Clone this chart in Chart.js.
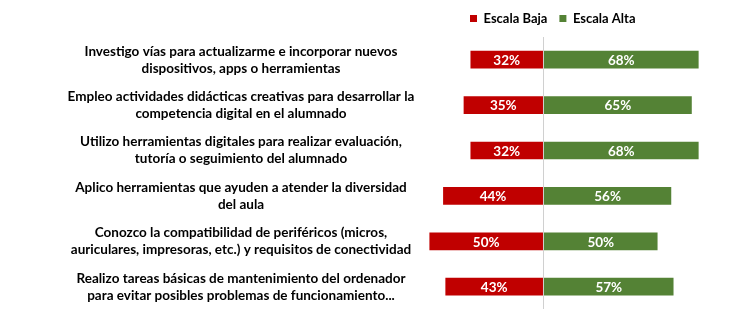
<!DOCTYPE html>
<html>
<head>
<meta charset="utf-8">
<script src="https://cdn.jsdelivr.net/npm/chart.js@4/dist/chart.umd.min.js"></script>
<style>
  html, body { margin: 0; padding: 0; background: #fff; }
  #wrap { width: 734px; height: 330px; }
</style>
</head>
<body>
<div id="wrap"><canvas id="chart"></canvas></div>
<script>
// Categorías (ya partidas en líneas como en el original)
const categorias = [
  ["Investigo vías para actualizarme e incorporar nuevos", "dispositivos, apps o herramientas"],
  ["Empleo actividades didácticas creativas para desarrollar la", "competencia digital en el alumnado"],
  ["Utilizo herramientas digitales para realizar evaluación,", "tutoría o seguimiento del alumnado"],
  ["Aplico herramientas que ayuden a atender la diversidad", "del aula"],
  ["Conozco la compatibilidad de periféricos (micros,", "auriculares, impresoras, etc.) y requisitos de conectividad"],
  ["Realizo tareas básicas de mantenimiento del ordenador", "para evitar posibles problemas de funcionamiento..."]
];
const escalaBaja = [32, 35, 32, 44, 50, 43];
const escalaAlta = [68, 65, 68, 56, 50, 57];
const serieNombres = ["Escala Baja", "Escala Alta"];

const ROJO = "#C00000";
const VERDE = "#548235";
const FONT = "Lato";

// etiquetas blancas dentro de cada barra
const etiquetasBarras = {
  id: "etiquetasBarras",
  afterDatasetsDraw(chart) {
    const ctx = chart.ctx;
    ctx.save();
    ctx.fillStyle = "#fff";
    ctx.font = "bold 13.5px " + FONT;
    ctx.textAlign = "center";
    ctx.textBaseline = "middle";
    chart.data.datasets.forEach((ds, i) => {
      chart.getDatasetMeta(i).data.forEach((bar, j) => {
        const p = bar.getProps(["x", "y", "base"], true);
        ctx.fillText(Math.abs(ds.data[j]) + "%", (p.x + p.base) / 2, p.y + 1);
      });
    });
    ctx.restore();
  }
};

// mover la leyenda a su sitio sobre las barras
const leyendaPos = {
  id: "leyendaPos",
  afterLayout(chart) {
    const lg = chart.legend;
    const w = lg.right - lg.left;
    lg.left = 458;
    lg.right = 458 + w;
    lg.top -= 2;
    lg.bottom -= 2;
  }
};

// ancho de la etiqueta más larga para centrar los textos del eje
const mctx = document.createElement("canvas").getContext("2d");
mctx.font = "bold 13.5px " + FONT;
let masAncha = 0;
categorias.forEach(c => c.forEach(l => { masAncha = Math.max(masAncha, mctx.measureText(l).width); }));

const ctx = document.getElementById("chart").getContext("2d");
new Chart(ctx, {
  type: "bar",
  data: {
    labels: categorias,
    datasets: [
      { label: serieNombres[0], data: escalaBaja.map(v => -v), backgroundColor: ROJO },
      { label: serieNombres[1], data: escalaAlta, backgroundColor: VERDE }
    ]
  },
  options: {
    indexAxis: "y",
    responsive: true,
    maintainAspectRatio: false,
    animation: false,
    datasets: { bar: { categoryPercentage: 1, barPercentage: 0.39 } },
    layout: { padding: { left: 0, right: 8, top: 2, bottom: 17 } },
    plugins: {
      tooltip: { enabled: false },
      legend: {
        position: "top",
        align: "start",
        labels: {
          boxWidth: 7,
          boxHeight: 7,
          padding: 12,
          color: "#000",
          font: { family: FONT, size: 13, weight: "bold" }
        }
      }
    },
    scales: {
      x: {
        stacked: true,
        min: -55,
        max: 80,
        ticks: { display: false },
        border: { display: false },
        grid: {
          drawTicks: false,
          color: c => (c.tick && c.tick.value === 0 ? "#D0D0D0" : "rgba(0,0,0,0)")
        }
      },
      y: {
        stacked: true,
        border: { display: false },
        grid: { display: false, drawTicks: false, tickLength: 0 },
        afterFit: axis => { axis.width = 418; },
        ticks: {
          crossAlign: "center",
          padding: 418 - 241 - masAncha / 2,
          color: "#000",
          font: { family: FONT, size: 13.5, weight: "bold", lineHeight: 1.26 }
        }
      }
    }
  },
  plugins: [etiquetasBarras, leyendaPos]
});
</script>
</body>
</html>
